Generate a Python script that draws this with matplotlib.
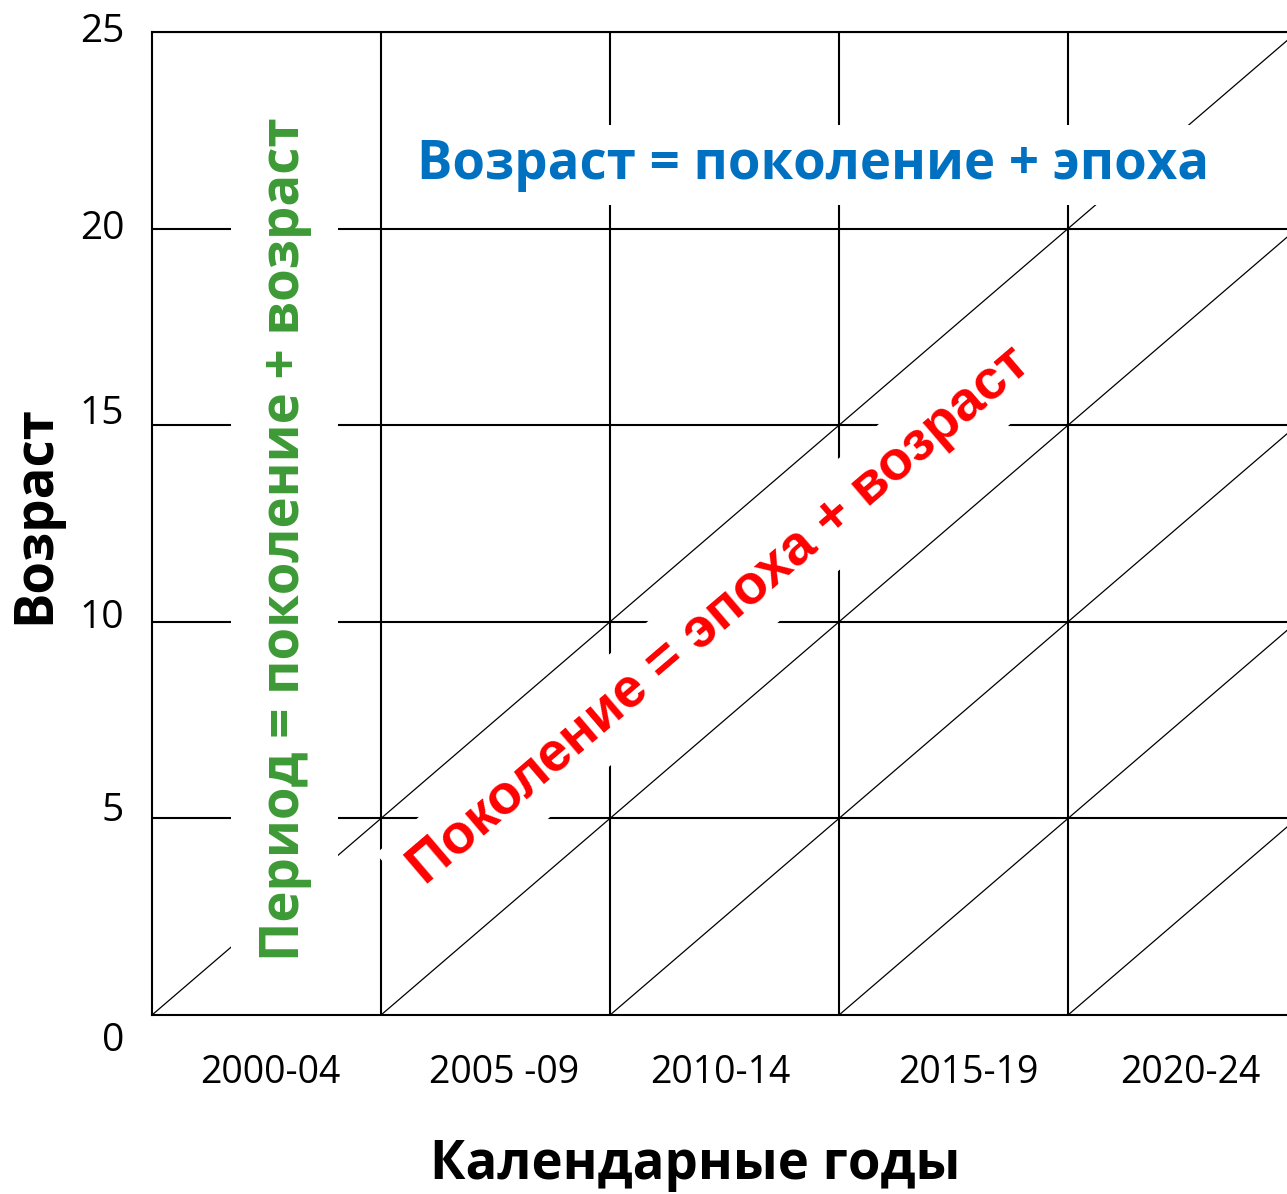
import matplotlib
matplotlib.use("Agg")
import matplotlib.pyplot as plt
from matplotlib.transforms import ScaledTranslation

plt.rcParams['font.family'] = ['Open Sans', 'DejaVu Sans']

# data
periods = ["2000-04", "2005 -09", "2010-14", "2015-19", "2020-24"]
period_starts = [0, 5, 10, 15, 20]
age_ticks = [0, 5, 10, 15, 20, 25]
age_labels = ["0", "5", "10", "15", "20", "25"]
cohort_starts = [0, 5, 10, 15, 20]   # diagonals: age = year - start
x_max = 25
y_max = 25

fig = plt.figure(figsize=(12.87, 11.94), dpi=100)
# right edge of the diagram runs just past the picture edge
ax = fig.add_axes([0.1181, 0.1499, 0.8897, 0.8233])
ax.set_xlim(0, x_max)
ax.set_ylim(0, y_max)

lw_grid = 1.5
for s in ax.spines.values():
    s.set_linewidth(lw_grid)
    s.set_color("black")

# grid
ax.vlines(period_starts[1:], 0, y_max, colors="black", lw=lw_grid, zorder=1)
ax.hlines(age_ticks[1:], 0, x_max, colors="black", lw=lw_grid, zorder=1)

# cohort diagonals
for c in cohort_starts:
    ax.plot([c, x_max], [0, y_max - c], color="black", lw=0.9, zorder=1)

# ticks
mid = [p + 2.5 for p in period_starts]
ax.set_xticks(mid)
ax.set_xticklabels(periods, fontsize=27)
ax.set_yticks(age_ticks)
ax.set_yticklabels(age_labels, fontsize=28)
ax.tick_params(axis="both", length=0)
ax.tick_params(axis="x", pad=28)
ax.tick_params(axis="y", pad=20)

# hand placed labels in the original drawing (pixels)
x_nudge = [4, 9, -4, 15, 8]
for lab, dx in zip(ax.get_xticklabels(), x_nudge):
    lab.set_transform(lab.get_transform() + ScaledTranslation(dx / 100, 0, fig.dpi_scale_trans))
y_nudge = [-21, 12, 8, 16, 4, 4]
for lab, dy in zip(ax.get_yticklabels(), y_nudge):
    lab.set_transform(lab.get_transform() + ScaledTranslation(0, dy / 100, fig.dpi_scale_trans))

ax.set_xlabel("Календарные годы", fontsize=38, fontweight="bold")
ax.xaxis.set_label_coords(0.474, -0.1526)
ax.xaxis.label.set_va("center")
ax.set_ylabel("Возраст", fontsize=38, fontweight="bold")
ax.yaxis.set_label_coords(-0.102, 0.5086)
ax.yaxis.label.set_va("center")

box = dict(boxstyle="square,pad=0.25", fc="white", ec="none")
ax.text(14.43, 21.62, "Возраст = поколение + эпоха", fontsize=38, fontweight="bold",
        color="#0070C0", ha="center", va="center", bbox=box, zorder=3)

box_g = dict(boxstyle="square,pad=0.5", fc="white", ec="none")
ax.text(2.9, 12.1, "Период = поколение + возраст", fontsize=38, fontweight="bold",
        color="#3D9A35", ha="center", va="center", rotation=90, bbox=box_g, zorder=3)

box_r = dict(boxstyle="square,pad=0.3", fc="white", ec="none")
ax.text(12.4, 10.15, "Поколение = эпоха + возраст", fontsize=40, fontweight="bold",
        color="#FF0000", ha="center", va="center", rotation=40.5,
        family=["Liberation Sans", "DejaVu Sans"], bbox=box_r, zorder=3)

fig.savefig("out.png", dpi=100)
